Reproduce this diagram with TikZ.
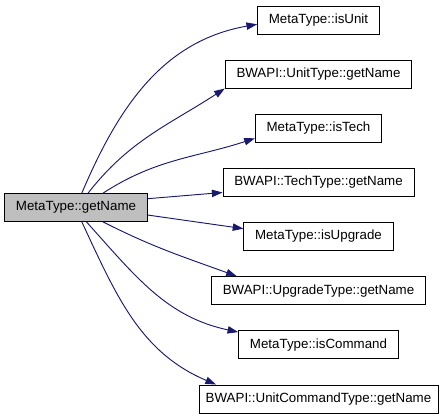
\documentclass[tikz,border=0pt]{standalone}
\usepackage{fontspec}
\setmainfont{Liberation Sans}
\usetikzlibrary{arrows.meta,positioning}
\definecolor{callblue}{HTML}{191970}
\definecolor{rootgray}{HTML}{BFBFBF}
\tikzset{
    fnbox/.style={draw, font=\fontsize{10}{12}\selectfont, minimum height=21pt,
        inner xsep=8.5pt, inner ysep=0pt, line width=0.6pt},
    rootbox/.style={fnbox, fill=rootgray},
    callarrow/.style={-{Triangle[length=8pt,width=5.5pt]}, draw=callblue, line width=0.7pt}
}

\begin{document}
\begin{tikzpicture}[x=0.75pt, y=-0.75pt, node distance=19pt]
\useasboundingbox (0,0) rectangle (448,413);
\node[rootbox] (getname) at (76,207.5) {MetaType::getName};
\node[fnbox] (isunit) at (318.5,20) {MetaType::isUnit};
\node[fnbox, below=of isunit] (unitname) {BWAPI::UnitType::getName};
\node[fnbox, below=of unitname] (istech) {MetaType::isTech};
\node[fnbox, below=of istech] (techname) {BWAPI::TechType::getName};
\node[fnbox, below=of techname] (isupgrade) {MetaType::isUpgrade};
\node[fnbox, below=of isupgrade] (upgradename) {BWAPI::UpgradeType::getName};
\node[fnbox, below=of upgradename] (iscommand) {MetaType::isCommand};
\node[fnbox, below=of iscommand, inner xsep=5pt] (commandname) {BWAPI::UnitCommandType::getName};
\draw[callarrow] (getname.68) to[out=67, in=190] (isunit.184);
\draw[callarrow] (getname.50) to[out=52, in=213] (unitname.south west);
\draw[callarrow] (getname.28) to[out=33, in=198] (istech.189);
\draw[callarrow] (getname.7) -- (techname.186);
\draw[callarrow] (getname.-6) -- (isupgrade.174);
\draw[callarrow] (getname.-28) to[out=-27, in=160] (upgradename.170);
\draw[callarrow] (getname.-54) to[out=-48, in=168] (iscommand.171);
\draw[callarrow] (getname.-68) to[out=-65, in=157] (commandname.172);
\end{tikzpicture}
\end{document}
